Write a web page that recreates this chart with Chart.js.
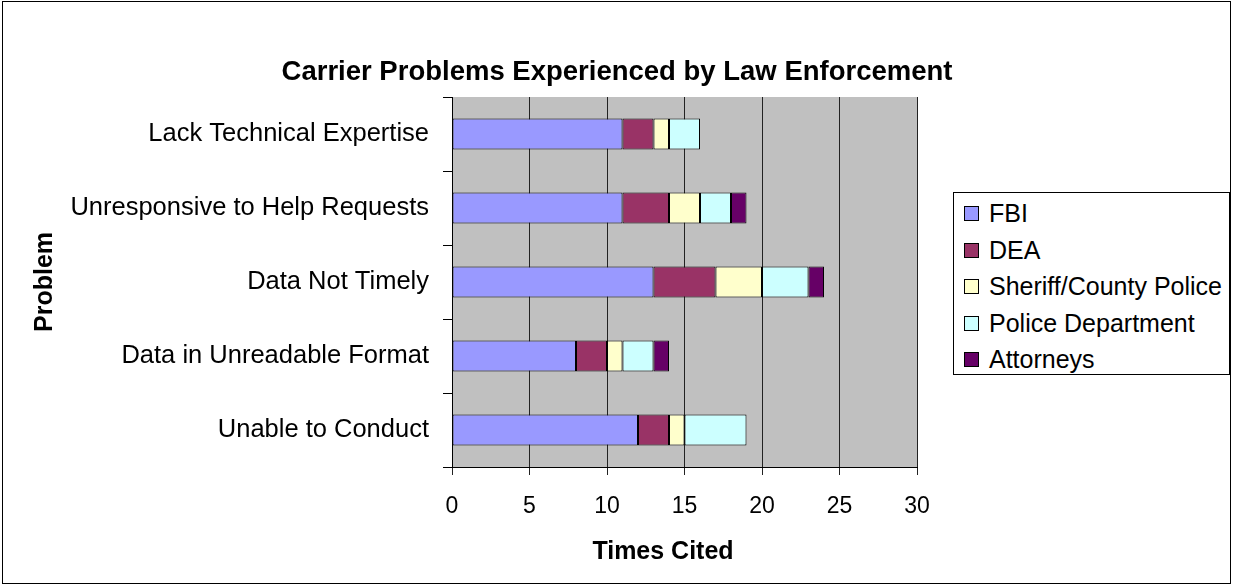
<!DOCTYPE html>
<html>
<head>
<meta charset="utf-8">
<script src="https://cdn.jsdelivr.net/npm/chart.js@4"></script>
<style>
    body { margin: 0; background: #fff; font-family: 'Liberation Sans', Arial, sans-serif; }
    #contenedor { position: relative; width: 1233px; height: 586px; }
    #marco { position: absolute; left: 2px; top: 1px; width: 1227px; height: 581px; border: 1px solid #000; pointer-events: none; }
    #leyenda { position: absolute; left: 953px; top: 192px; width: 275px; height: 181px; border: 1px solid #000; background: #fff; }
    .item { position: absolute; left: 10px; height: 30px; line-height: 30px; font-size: 25px; color: #000; white-space: nowrap; }
    .caja { display: inline-block; width: 13px; height: 13px; border: 1px solid #000; margin-right: 10px; vertical-align: 1px; }
</style>
</head>
<body>
<div id="contenedor">
    <canvas id="graficoBarras" width="1233" height="586"></canvas>
    <div id="marco"></div>
    <div id="leyenda"></div>
</div>
<script>
// Categorías (de arriba hacia abajo)
const problemas = [
    'Lack Technical Expertise',
    'Unresponsive to Help Requests',
    'Data Not Timely',
    'Data in Unreadable Format',
    'Unable to Conduct'
];

// Valores de cada serie (veces citado)
const fbi = [11, 11, 13, 8, 12];
const dea = [2, 3, 4, 2, 2];
const sheriff = [1, 2, 3, 1, 1];
const policia = [2, 2, 3, 2, 4];
const abogados = [0, 1, 1, 1, 0];

const nombresSeries = ['FBI', 'DEA', 'Sheriff/County Police', 'Police Department', 'Attorneys'];
const coloresSeries = ['#9999FF', '#993366', '#FFFFCC', '#CCFFFF', '#660066'];
const valoresSeries = [fbi, dea, sheriff, policia, abogados];

// Marcas del eje x
const marcasX = [0, 5, 10, 15, 20, 25, 30];

const tituloGrafico = 'Carrier Problems Experienced by Law Enforcement';
const tituloEjeX = 'Times Cited';

const fuente = "'Liberation Sans', Arial, sans-serif";
Chart.defaults.font.family = fuente;
Chart.defaults.color = '#000';

// Fondo gris del área de trazado y textos que no van centrados sobre el área
const fondoGris = {
    id: 'fondoGris',
    beforeDraw(chart) {
        const { ctx, chartArea } = chart;
        ctx.save();
        ctx.fillStyle = '#C0C0C0';
        ctx.fillRect(chartArea.left, chartArea.top, chartArea.right - chartArea.left, chartArea.bottom - chartArea.top);
        ctx.restore();
    },
    afterDraw(chart) {
        const ctx = chart.ctx;
        ctx.save();
        ctx.fillStyle = '#000';
        ctx.textAlign = 'center';
        ctx.textBaseline = 'middle';
        ctx.font = 'bold 27.5px ' + fuente;
        ctx.fillText(tituloGrafico, 617, 72);
        ctx.font = 'bold 25px ' + fuente;
        ctx.fillText(tituloEjeX, 663, 552);
        ctx.restore();
    }
};

const datasets = valoresSeries.map((valores, i) => ({
    label: nombresSeries[i],
    data: valores,
    backgroundColor: coloresSeries[i],
    borderColor: '#000',
    borderWidth: 1,
    borderSkipped: false,
    barPercentage: 0.42,
    categoryPercentage: 1
}));

const ctx = document.getElementById('graficoBarras').getContext('2d');
new Chart(ctx, {
    type: 'bar',
    data: { labels: problemas, datasets: datasets },
    plugins: [fondoGris],
    options: {
        indexAxis: 'y',
        responsive: false,
        animation: false,
        layout: { padding: { left: 26, right: 316, top: 97, bottom: 15 } },
        plugins: {
            legend: { display: false },
            tooltip: { enabled: false },
            title: { display: false }
        },
        scales: {
            x: {
                stacked: true,
                min: 0,
                max: 30,
                afterBuildTicks(scale) {
                    scale.ticks = marcasX.map(v => ({ value: v }));
                },
                afterFit(scale) { scale.height = 104; },
                grid: { color: '#222', lineWidth: 1, tickLength: 8, drawTicks: true },
                border: { color: '#000', width: 1 },
                ticks: { font: { size: 23 }, padding: 18, maxRotation: 0 },
                title: { display: false }
            },
            y: {
                stacked: true,
                afterFit(scale) { scale.width = 426; },
                grid: { offset: true, drawOnChartArea: false, color: '#000', tickLength: 9 },
                border: { color: '#000', width: 1 },
                ticks: { font: { size: 25.5 }, padding: 14 },
                title: {
                    display: true,
                    text: 'Problem',
                    font: { size: 25, weight: 'bold' },
                    padding: { top: 4, bottom: 4 }
                }
            }
        }
    }
});

// Leyenda hecha a mano con los mismos arrays
const leyenda = document.getElementById('leyenda');
nombresSeries.forEach((nombre, i) => {
    const item = document.createElement('div');
    item.className = 'item';
    item.style.top = (5 + i * 36.5) + 'px';
    item.innerHTML = '<span class="caja" style="background:' + coloresSeries[i] + '"></span>' + nombre;
    leyenda.appendChild(item);
});
</script>
</body>
</html>
